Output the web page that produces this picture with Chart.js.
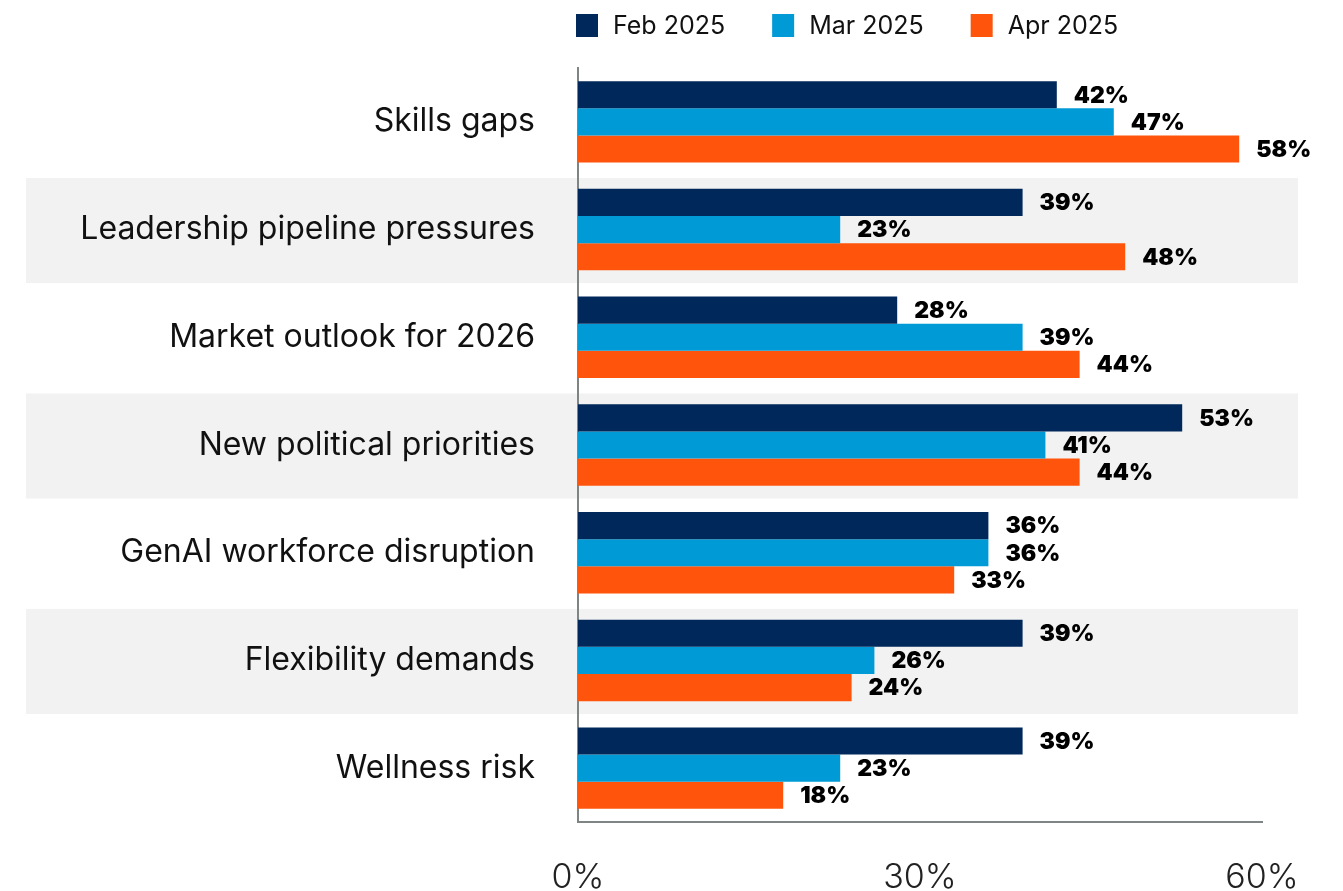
<!DOCTYPE html>
<html>
<head>
<meta charset="utf-8">
<script src="https://cdn.jsdelivr.net/npm/chart.js@4.4.1/dist/chart.umd.min.js"></script>
<style>
  html, body { margin: 0; padding: 0; background: #ffffff; }
  #wrap { width: 1343px; height: 891px; }
</style>
</head>
<body>
<div id="wrap"><canvas id="chart" width="1343" height="891"></canvas></div>
<script>
// Survey categories and share of respondents per month (%)
const categories = [
  'Skills gaps',
  'Leadership pipeline pressures',
  'Market outlook for 2026',
  'New political priorities',
  'GenAI workforce disruption',
  'Flexibility demands',
  'Wellness risk'
];
const seriesNames = ['Feb 2025', 'Mar 2025', 'Apr 2025'];
const feb2025 = [42, 39, 28, 53, 36, 39, 39];
const mar2025 = [47, 23, 39, 41, 36, 26, 23];
const apr2025 = [58, 48, 44, 44, 33, 24, 18];
const xTicks = [0, 30, 60];

const colors = ['#00285a', '#009bd7', '#fe540b'];
const FONT = 'Inter, "Liberation Sans", sans-serif';

// Light grey bands behind every second category row
const bandPlugin = {
  id: 'bands',
  beforeDraw(chart) {
    const { ctx } = chart;
    const y = chart.scales.y;
    const pitch = (y.bottom - y.top) / categories.length;
    ctx.save();
    ctx.fillStyle = '#f2f2f2';
    categories.forEach((c, i) => {
      if (i % 2 === 1) {
        const cy = y.getPixelForValue(i);
        const h = pitch * 0.975;
        ctx.fillRect(26, cy - h / 2 + 1, 1298 - 26, h);
      }
    });
    ctx.restore();
  }
};

// Bold value labels at the end of each bar
const valueLabels = {
  id: 'valueLabels',
  afterDatasetsDraw(chart) {
    const { ctx } = chart;
    ctx.save();
    ctx.font = '900 23px ' + FONT;
    ctx.fillStyle = '#000000';
    ctx.textAlign = 'left';
    ctx.textBaseline = 'middle';
    chart.data.datasets.forEach((ds, di) => {
      const meta = chart.getDatasetMeta(di);
      meta.data.forEach((bar, i) => {
        ctx.fillText(ds.data[i] + '%', bar.x + 17, bar.y + 1);
      });
    });
    ctx.restore();
  }
};

// Legend row above the plot
const topLegend = {
  id: 'topLegend',
  afterDraw(chart) {
    const { ctx } = chart;
    ctx.save();
    ctx.font = '400 25px ' + FONT;
    ctx.textBaseline = 'middle';
    ctx.textAlign = 'left';
    let x = 576;
    const cy = 25;
    chart.data.datasets.forEach((ds) => {
      ctx.fillStyle = ds.backgroundColor;
      ctx.fillRect(x, cy - 11, 22, 23);
      ctx.fillStyle = '#111111';
      ctx.fillText(ds.label, x + 37, cy + 1);
      x += 37 + ctx.measureText(ds.label).width + 47;
    });
    ctx.restore();
  }
};

new Chart(document.getElementById('chart'), {
  type: 'bar',
  data: {
    labels: categories,
    datasets: [
      { label: seriesNames[0], data: feb2025, backgroundColor: colors[0] },
      { label: seriesNames[1], data: mar2025, backgroundColor: colors[1] },
      { label: seriesNames[2], data: apr2025, backgroundColor: colors[2] }
    ]
  },
  options: {
    indexAxis: 'y',
    responsive: false,
    animation: false,
    events: [],
    layout: { padding: { top: 68, right: 81, left: 0, bottom: 0 } },
    datasets: {
      bar: { barPercentage: 1, categoryPercentage: 0.756 }
    },
    scales: {
      x: {
        min: 0,
        max: 60,
        afterBuildTicks(axis) { axis.ticks = xTicks.map(v => ({ value: v })); },
        afterFit(axis) { axis.height = 69; },
        grid: { display: false, drawTicks: false },
        border: { display: true, color: '#7f8585', width: 2 },
        ticks: {
          padding: 35,
          color: '#222222',
          font: { family: FONT, size: 34, weight: '300' },
          callback: v => v + '%',
          maxRotation: 0
        }
      },
      y: {
        afterFit(axis) { axis.width = 578; },
        grid: { display: false, drawTicks: false },
        border: { display: true, color: '#7f8585', width: 2 },
        ticks: {
          padding: 43,
          color: '#111111',
          font: { family: FONT, size: 32, weight: '400' }
        }
      }
    },
    plugins: {
      legend: { display: false },
      tooltip: { enabled: false }
    }
  },
  plugins: [bandPlugin, valueLabels, topLegend]
});
</script>
</body>
</html>
